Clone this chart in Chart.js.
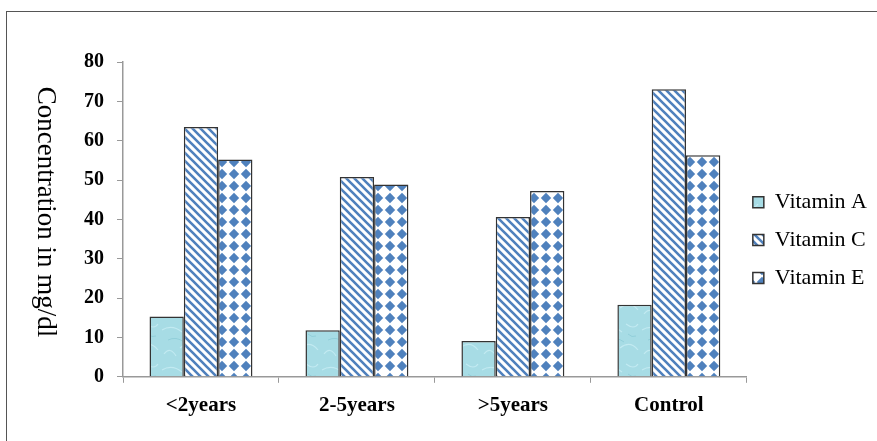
<!DOCTYPE html>
<html>
<head>
<meta charset="utf-8">
<script src="https://cdn.jsdelivr.net/npm/chart.js@4.4.1/dist/chart.umd.min.js"></script>
<style>
  html, body { margin: 0; padding: 0; background: #fff; overflow: hidden; }
  #frame { position: absolute; left: 6px; top: 11px; width: 900px; height: 460px;
           border-left: 1.5px solid #555; border-top: 1.5px solid #555; }
  #wrap { position: absolute; left: 0; top: 0; width: 877px; height: 441px; }
</style>
</head>
<body>
<div id="frame"></div>
<div id="wrap"><canvas id="chart" width="877" height="441"></canvas></div>
<script>
const groups = ["<2years", "2-5years", ">5years", "Control"];
const vitaminA = [15.3, 11.8, 9.1, 18.3];
const vitaminC = [63.5, 50.8, 40.6, 73.1];
const vitaminE = [55.2, 48.9, 47.2, 56.3];
const yTicks = [0, 10, 20, 30, 40, 50, 60, 70, 80];

const BLUE = "#4f81bd";
const serif = "'Liberation Serif', 'Times New Roman', serif";

// ---- fill patterns ----
function makeTile(w, h, draw) {
  const c = document.createElement("canvas");
  c.width = w; c.height = h;
  draw(c.getContext("2d"), w, h);
  return document.getElementById("chart").getContext("2d").createPattern(c, "repeat");
}

// light cyan "water" texture
const waterFill = makeTile(40, 40, (g, w, h) => {
  g.fillStyle = "#a7dce5";
  g.fillRect(0, 0, w, h);
  g.strokeStyle = "rgba(205,240,246,0.7)";
  g.lineWidth = 1.2;
  g.beginPath();
  g.moveTo(2, 10); g.quadraticCurveTo(12, 4, 22, 12);
  g.moveTo(20, 28); g.quadraticCurveTo(30, 20, 38, 30);
  g.moveTo(4, 34); g.quadraticCurveTo(10, 26, 16, 36);
  g.moveTo(26, 4); g.quadraticCurveTo(34, 10, 38, 4);
  g.stroke();
  g.strokeStyle = "rgba(120,190,205,0.45)";
  g.lineWidth = 1;
  g.beginPath();
  g.moveTo(8, 20); g.quadraticCurveTo(16, 16, 24, 22);
  g.moveTo(28, 14); g.quadraticCurveTo(32, 18, 36, 16);
  g.stroke();
});

// diagonal "\" stripes
const stripeFill = makeTile(8, 8, (g, w, h) => {
  g.fillStyle = "#fff";
  g.fillRect(0, 0, w, h);
  g.strokeStyle = BLUE;
  g.lineWidth = 2.6;
  g.beginPath();
  g.moveTo(-2, -2); g.lineTo(w + 2, h + 2);
  g.moveTo(-2, h - 2); g.lineTo(2, h + 2);
  g.moveTo(w - 2, -2); g.lineTo(w + 2, 2);
  g.stroke();
});

// diamond lattice
const diamondFill = makeTile(12, 12, (g, w, h) => {
  g.fillStyle = "#fff";
  g.fillRect(0, 0, w, h);
  g.fillStyle = BLUE;
  const cx = w / 2, cy = h / 2, r = 5.2;
  g.beginPath();
  g.moveTo(cx, cy - r); g.lineTo(cx + r, cy); g.lineTo(cx, cy + r); g.lineTo(cx - r, cy);
  g.closePath();
  g.fill();
});

// y axis title, reading top to bottom
const sideTitle = {
  id: "sideTitle",
  afterDraw(chart) {
    const g = chart.ctx;
    g.save();
    g.translate(45, 212);
    g.rotate(Math.PI / 2);
    g.font = "27px " + serif;
    g.fillStyle = "#000";
    g.textAlign = "center";
    g.textBaseline = "middle";
    g.fillText("Concentration in mg/dl", 0, 0);
    g.restore();
  }
};

const barStyle = { borderColor: "#333", borderWidth: 1.5, borderSkipped: "bottom" };

new Chart(document.getElementById("chart"), {
  type: "bar",
  data: {
    labels: groups,
    datasets: [
      { label: "Vitamin A", data: vitaminA, backgroundColor: waterFill, ...barStyle },
      { label: "Vitamin C", data: vitaminC, backgroundColor: stripeFill, ...barStyle },
      { label: "Vitamin E", data: vitaminE, backgroundColor: diamondFill, ...barStyle },
    ],
  },
  options: {
    responsive: false,
    animation: false,
    events: [],
    layout: { padding: { left: 71, top: 62, bottom: 13, right: 0 } },
    datasets: { bar: { categoryPercentage: 0.66, barPercentage: 1.0 } },
    plugins: {
      legend: {
        position: "right",
        labels: {
          boxWidth: 11,
          boxHeight: 11,
          padding: 6,
          color: "#000",
          font: { family: serif, size: 22, lineHeight: 1.45 },
          // one-line arrays so the row height follows the line height
          generateLabels: chart =>
            Chart.defaults.plugins.legend.labels.generateLabels(chart).map(item => ({ ...item, text: [item.text] })),
        },
      },
      tooltip: { enabled: false },
    },
    scales: {
      x: {
        grid: { display: true, drawOnChartArea: false, color: "#999", tickLength: 6, offset: true },
        border: { color: "#999", width: 1.5 },
        ticks: { color: "#000", padding: 10, font: { family: serif, size: 21, weight: "bold" } },
      },
      y: {
        min: 0,
        max: 80,
        afterBuildTicks: axis => { axis.ticks = yTicks.map(v => ({ value: v })); },
        grid: { display: true, drawOnChartArea: false, color: "#999", tickLength: 6 },
        border: { color: "#999", width: 1.5 },
        ticks: { color: "#000", padding: 13, font: { family: serif, size: 20, weight: "bold" } },
      },
    },
  },
  plugins: [sideTitle],
});
</script>
</body>
</html>
